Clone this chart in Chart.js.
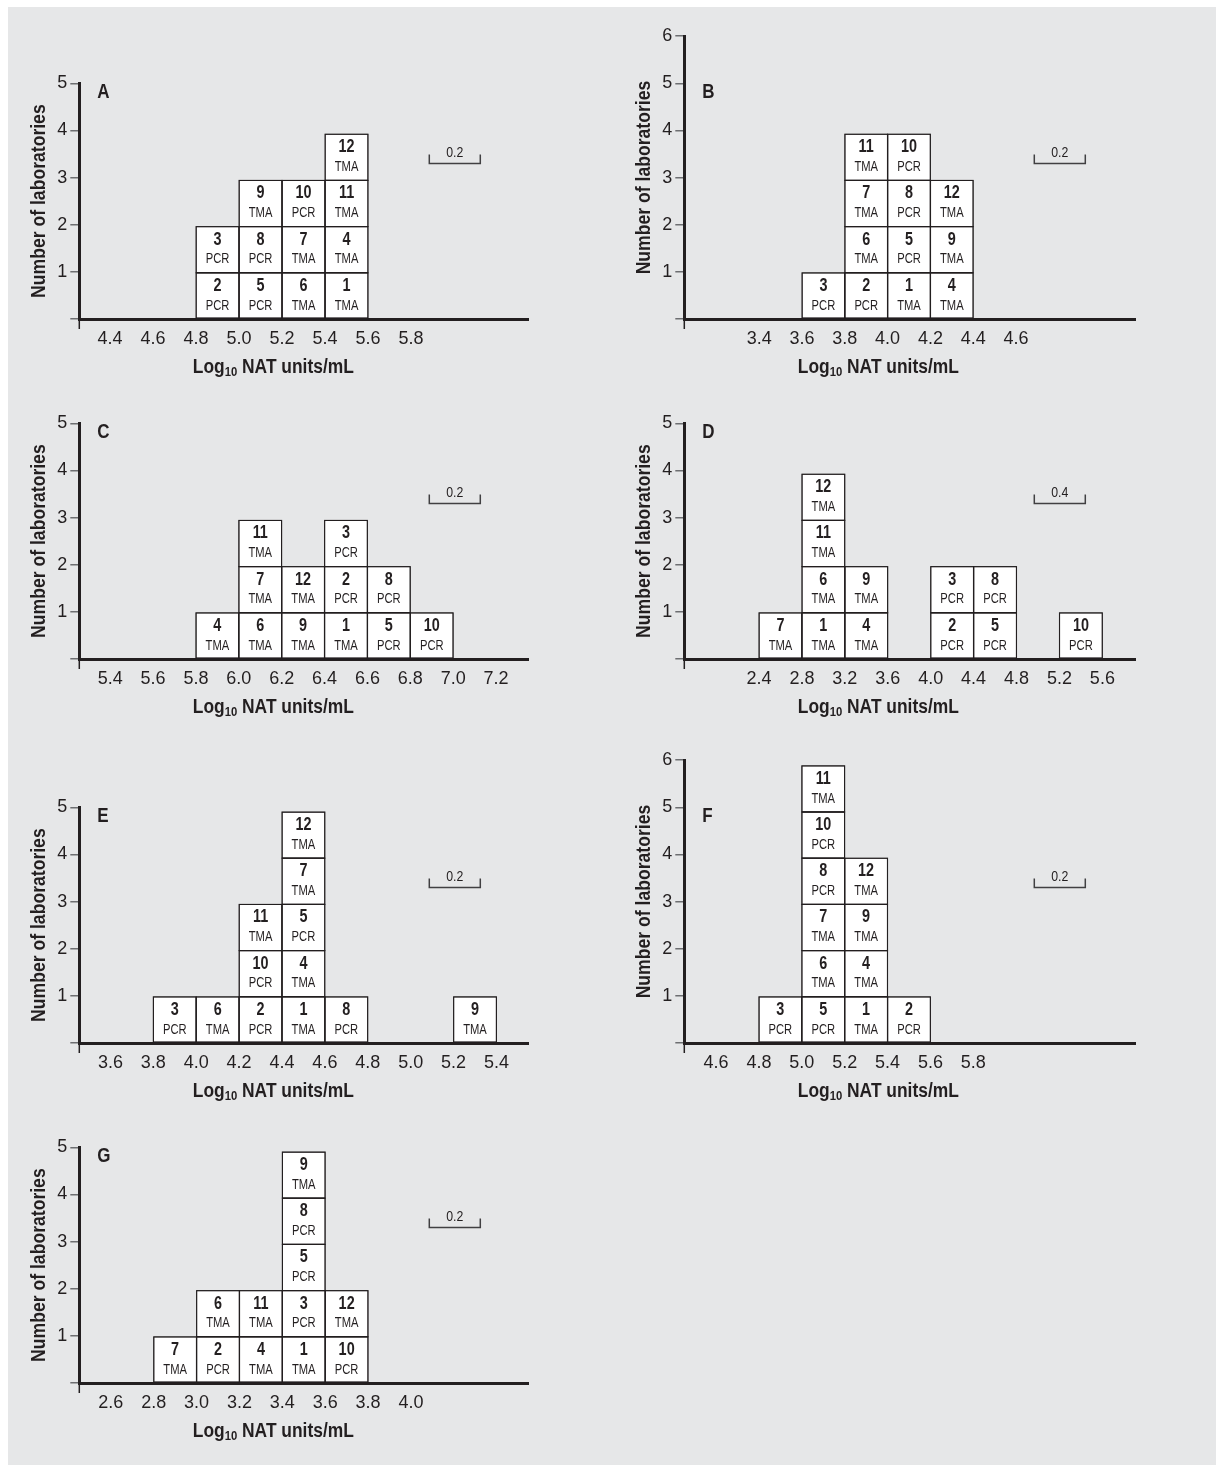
<!DOCTYPE html>
<html>
<head>
<meta charset="utf-8">
<script src="https://cdn.jsdelivr.net/npm/chart.js@4/dist/chart.umd.min.js"></script>
<style>
  html, body { margin: 0; padding: 0; background: #fff; }
  #page { position: relative; width: 1216px; height: 1465px; overflow: hidden; }
  #bg { position: absolute; left: 8px; top: 7px; right: 0; bottom: 0; background: #e6e7e8; }
  canvas { position: absolute; }
</style>
</head>
<body>
<div id="page"><div id="bg"></div></div>
<script>
// assay used by each lab (lab 1 .. lab 12)
const labMethod = ['TMA', 'PCR', 'PCR', 'TMA', 'PCR', 'TMA', 'TMA', 'PCR', 'TMA', 'PCR', 'TMA', 'TMA'];

// each panel: bin start values, labs stacked in each bin (bottom -> top), x tick labels
const binsA = [4.8, 5.0, 5.2, 5.4];
const labsA = [[2, 3], [5, 8, 9], [6, 7, 10], [1, 4, 11, 12]];
const ticksA = [4.4, 4.6, 4.8, 5.0, 5.2, 5.4, 5.6, 5.8];

const binsB = [3.6, 3.8, 4.0, 4.2];
const labsB = [[3], [2, 6, 7, 11], [1, 5, 8, 10], [4, 9, 12]];
const ticksB = [3.4, 3.6, 3.8, 4.0, 4.2, 4.4, 4.6];

const binsC = [5.8, 6.0, 6.2, 6.4, 6.6, 6.8];
const labsC = [[4], [6, 7, 11], [9, 12], [1, 2, 3], [5, 8], [10]];
const ticksC = [5.4, 5.6, 5.8, 6.0, 6.2, 6.4, 6.6, 6.8, 7.0, 7.2];

const binsD = [2.4, 2.8, 3.2, 4.0, 4.4, 5.2];
const labsD = [[7], [1, 6, 11, 12], [4, 9], [2, 3], [5, 8], [10]];
const ticksD = [2.4, 2.8, 3.2, 3.6, 4.0, 4.4, 4.8, 5.2, 5.6];

const binsE = [3.8, 4.0, 4.2, 4.4, 4.6, 5.2];
const labsE = [[3], [6], [2, 10, 11], [1, 4, 5, 7, 12], [8], [9]];
const ticksE = [3.6, 3.8, 4.0, 4.2, 4.4, 4.6, 4.8, 5.0, 5.2, 5.4];

const binsF = [4.8, 5.0, 5.2, 5.4];
const labsF = [[3], [5, 6, 7, 8, 10, 11], [1, 4, 9, 12], [2]];
const ticksF = [4.6, 4.8, 5.0, 5.2, 5.4, 5.6, 5.8];

const binsG = [2.8, 3.0, 3.2, 3.4, 3.6];
const labsG = [[7], [2, 6], [4, 11], [1, 3, 5, 8, 9], [10, 12]];
const ticksG = [2.6, 2.8, 3.0, 3.2, 3.4, 3.6, 3.8, 4.0];

const panels = [
  { letter: 'A', bins: binsA, labs: labsA, ticks: ticksA, width: 0.2, range: [4.257, 6.344], yMax: 5, col: 0, row: 0 },
  { letter: 'B', bins: binsB, labs: labsB, ticks: ticksB, width: 0.2, range: [3.05, 5.156], yMax: 6, col: 1, row: 0 },
  { letter: 'C', bins: binsC, labs: labsC, ticks: ticksC, width: 0.2, range: [5.256, 7.349], yMax: 5, col: 0, row: 1 },
  { letter: 'D', bins: binsD, labs: labsD, ticks: ticksD, width: 0.4, range: [1.704, 5.904], yMax: 5, col: 1, row: 1 },
  { letter: 'E', bins: binsE, labs: labsE, ticks: ticksE, width: 0.2, range: [3.455, 5.547], yMax: 5, col: 0, row: 2 },
  { letter: 'F', bins: binsF, labs: labsF, ticks: ticksF, width: 0.2, range: [4.452, 6.554], yMax: 6, col: 1, row: 2 },
  { letter: 'G', bins: binsG, labs: labsG, ticks: ticksG, width: 0.2, range: [2.453, 4.546], yMax: 5, col: 0, row: 3 }
];

// ----------------- Layout -----------------
const INK = '#231f20';
const FONT = '"Liberation Sans", Arial, sans-serif';
const rowBaseline = [318.7, 659, 1042.7, 1382.7];
const colAxis = [79.3, 684.3];
const colRight = [528, 1135];
const colCanvas = [[10, 590], [610, 600]];
const UNIT = 47.15;   // px per laboratory
const BOX_H = 0.98;   // stacked boxes in the original sit a touch under one unit
const Y_W = 50;
const X_H = 40;
const CANVAS_H = 390;

Chart.defaults.font.family = FONT;
Chart.defaults.color = INK;

// the original uses a condensed face, so squeeze text horizontally
function narrowText(ctx, text, x, y, font, squeeze) {
  ctx.save();
  ctx.font = font;
  ctx.translate(x, y);
  ctx.scale(squeeze, 1);
  ctx.fillText(text, 0, 0);
  ctx.restore();
}

// box labels, panel letter, scale bar, axis titles
const decor = {
  id: 'decor',
  afterDatasetsDraw(chart) {
    const ctx = chart.ctx;
    const ds = chart.data.datasets[0];
    ctx.save();
    ctx.fillStyle = INK;
    ctx.strokeStyle = INK;
    ctx.lineWidth = 1;
    ctx.textAlign = 'center';
    ctx.textBaseline = 'middle';
    chart.getDatasetMeta(0).data.forEach((el, i) => {
      const lab = ds.data[i].lab;
      const top = Math.min(el.y, el.base);
      const bot = Math.max(el.y, el.base);
      ctx.strokeRect(el.x - el.width / 2, top, el.width, bot - top);
      narrowText(ctx, String(lab), el.x, top + 13, 'bold 18px ' + FONT, 0.8);
      narrowText(ctx, labMethod[lab - 1], el.x, top + 33, '14px ' + FONT, 0.8);
    });
    ctx.restore();
  },
  afterDraw(chart, args, opts) {
    const ctx = chart.ctx;
    const area = chart.chartArea;
    const y = chart.scales.y;
    ctx.save();
    ctx.fillStyle = INK;
    ctx.strokeStyle = INK;
    ctx.textBaseline = 'middle';

    // small stub of the y axis below the origin
    ctx.lineWidth = 1.5;
    ctx.beginPath();
    ctx.moveTo(area.left, area.bottom);
    ctx.lineTo(area.left, area.bottom + 10);
    ctx.stroke();

    // panel letter
    ctx.textAlign = 'left';
    narrowText(ctx, opts.letter, area.left + 18, y.getPixelForValue(4.8), 'bold 20px ' + FONT, 0.85);

    // scale bar
    const x0 = area.left + 350, x1 = area.left + 401;
    const yb = Math.round(y.getPixelForValue(3.3)) + 0.5;
    ctx.strokeStyle = '#414042';
    ctx.lineWidth = 1.5;
    ctx.beginPath();
    ctx.moveTo(x0, yb - 9);
    ctx.lineTo(x0, yb);
    ctx.lineTo(x1, yb);
    ctx.lineTo(x1, yb - 9);
    ctx.stroke();
    ctx.textAlign = 'center';
    narrowText(ctx, opts.scaleLabel, (x0 + x1) / 2, yb - 11, '15px ' + FONT, 0.82);

    // y title
    ctx.save();
    ctx.translate(area.left - 40, (area.top + area.bottom) / 2);
    ctx.rotate(-Math.PI / 2);
    narrowText(ctx, 'Number of laboratories', 0, 0, 'bold 20px ' + FONT, 0.88);
    ctx.restore();

    // x title with subscript
    const sq = 0.87;
    const big = 'bold 20px ' + FONT, small = 'bold 13px ' + FONT;
    const parts = [['Log', big, 0], ['10', small, 5], [' NAT units/mL', big, 0]];
    let total = 0;
    parts.forEach(p => { ctx.font = p[1]; total += ctx.measureText(p[0]).width * sq; });
    let cx = area.left + 194 - total / 2;
    const ty = area.bottom + 48;
    ctx.textAlign = 'left';
    parts.forEach(p => {
      narrowText(ctx, p[0], cx, ty + p[2], p[1], sq);
      ctx.font = p[1];
      cx += ctx.measureText(p[0]).width * sq;
    });
    ctx.restore();
  }
};

const page = document.getElementById('page');

function makePanel(p) {
  const [cLeft, cWidth] = colCanvas[p.col];
  const cTop = rowBaseline[p.row] - 300;
  const canvas = document.createElement('canvas');
  canvas.width = cWidth;
  canvas.height = CANVAS_H;
  canvas.style.left = cLeft + 'px';
  canvas.style.top = cTop + 'px';
  page.appendChild(canvas);

  const boxes = [];
  p.bins.forEach((start, i) => {
    p.labs[i].forEach((lab, level) => {
      boxes.push({ x: start + p.width / 2, y: [level * BOX_H, (level + 1) * BOX_H], lab });
    });
  });

  new Chart(canvas, {
    type: 'bar',
    data: {
      datasets: [{
        data: boxes,
        backgroundColor: '#ffffff',
        borderColor: INK,
        borderWidth: 1,
        borderSkipped: false,
        barPercentage: 1,
        categoryPercentage: 1
      }]
    },
    options: {
      responsive: false,
      animation: false,
      devicePixelRatio: 1,
      layout: {
        padding: {
          left: colAxis[p.col] - cLeft - Y_W,
          right: cLeft + cWidth - colRight[p.col],
          top: 300 - p.yMax * UNIT,
          bottom: CANVAS_H - 300 - X_H
        }
      },
      plugins: {
        legend: { display: false },
        tooltip: { enabled: false },
        decor: { letter: p.letter, scaleLabel: p.width.toFixed(1) }
      },
      scales: {
        x: {
          type: 'linear',
          min: p.range[0],
          max: p.range[1],
          offset: false,
          afterBuildTicks: s => { s.ticks = p.ticks.map(v => ({ value: v })); },
          afterFit: s => { s.height = X_H; },
          grid: { display: false, offset: false },
          border: { display: true, width: 3, color: INK },
          ticks: {
            autoSkip: false, maxRotation: 0, padding: 1,
            font: { size: 18 }, color: INK,
            callback: v => Number(v).toFixed(1)
          }
        },
        y: {
          min: 0,
          max: p.yMax,
          afterFit: s => { s.width = Y_W; },
          grid: { drawOnChartArea: false, tickLength: 9, color: '#6d6e71', lineWidth: 1.5 },
          border: { width: 3, color: INK },
          ticks: {
            stepSize: 1, padding: 3,
            font: { size: 18 }, color: INK,
            callback: v => (v === 0 ? '' : v)
          }
        }
      }
    },
    plugins: [decor]
  });
}

panels.forEach(makePanel);
</script>
</body>
</html>
